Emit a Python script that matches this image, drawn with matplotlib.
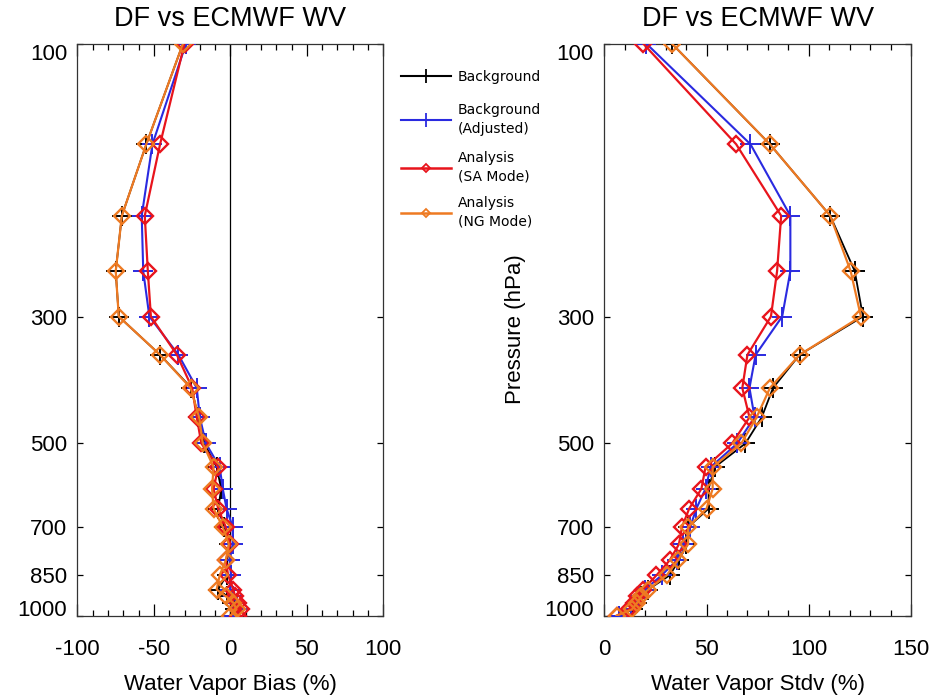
import matplotlib
matplotlib.use('Agg')
import matplotlib.pyplot as plt
from matplotlib.lines import Line2D
from matplotlib.ticker import MultipleLocator, FixedLocator, NullLocator

plt.rcParams['axes.unicode_minus'] = False

# ---------------- data ----------------
pressure = [100, 150, 200, 250, 300, 350, 400, 450, 500, 550, 600, 650, 700,
            750, 800, 850, 900, 925, 950, 975, 1000]

bias_bg     = [-31, -55, -71, -75, -73, -46, -25.5, -21, -17, -9, -6, -8, -4,
               -1, -2, -2.5, -8, -2, 1, 3, 1]
bias_bg_adj = [-29, -51, -58, -57, -53, -34, -22, -20, -16, -7, -5, -2.5, 1.5,
               1.5, -0.5, 0.5, 0, 2, 4, 5, 2]
bias_sa     = [-30, -46, -56, -54, -52, -35, -25, -22, -19, -8, -11, -8, -3,
               0, -3, -1.5, 2, 3, 5, 7, 5]
bias_ng     = [-31, -55, -71, -75, -73, -46, -26, -20.5, -18, -11, -12, -11, -5,
               -1, -3, -7, -9, -3, 2, 4, 0]

stdv_bg     = [33, 81, 110.5, 122.5, 126.5, 95.5, 82.5, 77, 69, 54, 51, 51, 41,
               40, 36.5, 32, 21.5, 18, 16, 14, 7]
stdv_bg_adj = [20.5, 71.5, 91, 91, 87, 74, 71, 73.5, 65, 52, 49.5, 45, 42,
               38.5, 35.5, 28, 20, 17, 15, 13, 7]
stdv_sa     = [19, 64.5, 86.5, 84.5, 81.5, 70, 67.5, 71, 62.5, 49.5, 47.5, 41.5, 38,
               36.5, 32, 25.5, 19, 16, 14.5, 12, 6]
stdv_ng     = [33, 81, 110.5, 120.5, 125.5, 95.5, 81, 74.5, 67, 53, 53, 50, 41,
               41, 36, 30.5, 21.5, 18, 16, 13.5, 6]

series_labels = ['Background', 'Background\n(Adjusted)',
                 'Analysis\n(SA Mode)', 'Analysis\n(NG Mode)']
ytick_vals = [100, 300, 500, 700, 850, 1000]
title_text = 'DF vs ECMWF WV'

# ---------------- style ----------------
C_BG = 'black'
C_ADJ = '#2a2ae0'
C_SA = '#e8141c'
C_NG = '#ee7a22'
FONT = 'Liberation Sans'

W, H = 953, 698
fig = plt.figure(figsize=(W / 100, H / 100), dpi=100)

def px_axes(x0, x1, y0, y1):
    return fig.add_axes([x0 / W, 1 - y1 / H, (x1 - x0) / W, (y1 - y0) / H])

ax1 = px_axes(77.5, 383.3, 43.5, 615.7)
ax2 = px_axes(604.3, 911.0, 43.5, 615.7)

def draw(ax, bg, adj, sa, ng):
    ax.plot(bg, pressure, color=C_BG, lw=1.3, marker='+', ms=14, mew=1.4, zorder=3)
    ax.plot(adj, pressure, color=C_ADJ, lw=1.5, marker='+', ms=14, mew=1.4, zorder=4)
    ax.plot(sa, pressure, color=C_SA, lw=1.6, marker='D', ms=8, mew=1.7,
            mfc='none', zorder=5)
    ax.plot(ng, pressure, color=C_NG, lw=1.6, marker='D', ms=8, mew=1.7,
            mfc='none', zorder=6)

draw(ax1, bias_bg, bias_bg_adj, bias_sa, bias_ng)
draw(ax2, stdv_bg, stdv_bg_adj, stdv_sa, stdv_ng)
ax1.axvline(0, color='black', lw=0.9, zorder=2)

for ax, xlim, xmaj, xlabel in [(ax1, (-100, 100), 50, 'Water Vapor Bias (%)'),
                               (ax2, (0, 150), 50, 'Water Vapor Stdv (%)')]:
    ax.set_yscale('log')
    ax.set_ylim(1000, 100)
    ax.set_xlim(*xlim)
    ax.yaxis.set_major_locator(FixedLocator(ytick_vals))
    ax.yaxis.set_minor_locator(NullLocator())
    ax.set_yticklabels([str(v) for v in ytick_vals])
    ax.xaxis.set_major_locator(MultipleLocator(xmaj))
    ax.xaxis.set_minor_locator(MultipleLocator(10))
    ax.tick_params(axis='x', which='major', direction='in', top=True, bottom=True,
                   length=8.5, width=0.9, pad=17, labelsize=16)
    ax.tick_params(axis='x', which='minor', direction='in', top=True, bottom=True,
                   length=4.5, width=0.9)
    ax.tick_params(axis='y', which='major', direction='in', left=True, right=True,
                   length=4.5, width=0.9, pad=7.5, labelsize=16)
    for lab in ax.get_xticklabels() + ax.get_yticklabels():
        lab.set_fontfamily(FONT)
    ylabs = ax.get_yticklabels()
    ylabs[0].set_va('top')
    ylabs[-1].set_va('baseline')
    for s in ax.spines.values():
        s.set_linewidth(0.9)
        s.set_color('#333333')
    ax.set_xlabel(xlabel, fontsize=16, fontfamily=FONT, labelpad=9.5)
    ax.set_title(title_text, fontsize=19.5, fontfamily=FONT, pad=12.5)

ax2.set_ylabel('Pressure (hPa)', fontsize=16, fontfamily=FONT, labelpad=13)

# ---------------- legend (one entry per block, placed at the reference rows) ----
handles = [
    Line2D([], [], color=C_BG, lw=1.5, marker='+', ms=10, mew=1.3),
    Line2D([], [], color=C_ADJ, lw=1.5, marker='+', ms=10, mew=1.3),
    Line2D([], [], color=C_SA, lw=1.8, marker='D', ms=4.5, mew=1.3, mfc='none'),
    Line2D([], [], color=C_NG, lw=1.8, marker='D', ms=4.5, mew=1.3, mfc='none'),
]
row_y_px = [77, 119.5, 167, 212]
for h, lab, ypx in zip(handles, series_labels, row_y_px):
    leg = fig.legend([h], [lab], loc='center left',
                     bbox_to_anchor=(401 / W, 1 - ypx / H), frameon=False,
                     borderpad=0, borderaxespad=0, handlelength=3.6,
                     handletextpad=0.5,
                     prop={'family': 'DejaVu Sans', 'size': 10})
    for t in leg.get_texts():
        t.set_linespacing(1.45)

fig.savefig('out.png', dpi=100)
